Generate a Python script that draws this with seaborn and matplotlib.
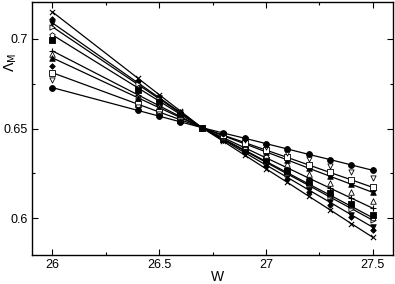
import matplotlib
matplotlib.use("Agg")
import matplotlib.pyplot as plt
import seaborn as sns
import pandas as pd

W = [26.0, 26.4, 26.5, 26.6, 26.7, 26.8, 26.9, 27.0, 27.1, 27.2, 27.3, 27.4, 27.5]

s_x     = [0.7150, 0.6781, 0.6689, 0.6597, 0.6505, 0.6429, 0.6352, 0.6276, 0.6200, 0.6123, 0.6047, 0.5970, 0.5894]
s_dia1  = [0.7111, 0.6765, 0.6678, 0.6592, 0.6505, 0.6434, 0.6362, 0.6291, 0.6219, 0.6148, 0.6076, 0.6005, 0.5933]
s_tdf   = [0.7089, 0.6755, 0.6672, 0.6589, 0.6505, 0.6436, 0.6366, 0.6297, 0.6228, 0.6158, 0.6089, 0.6019, 0.5950]
s_tro   = [0.7067, 0.6746, 0.6666, 0.6585, 0.6505, 0.6441, 0.6376, 0.6312, 0.6247, 0.6183, 0.6118, 0.6054, 0.5989]
s_pen   = [0.7022, 0.6727, 0.6653, 0.6579, 0.6505, 0.6442, 0.6380, 0.6317, 0.6254, 0.6191, 0.6129, 0.6066, 0.6003]
s_sqf   = [0.6994, 0.6715, 0.6645, 0.6575, 0.6505, 0.6444, 0.6383, 0.6322, 0.6261, 0.6200, 0.6139, 0.6078, 0.6017]
s_plus  = [0.6933, 0.6688, 0.6627, 0.6566, 0.6505, 0.6449, 0.6393, 0.6337, 0.6281, 0.6224, 0.6168, 0.6112, 0.6056]
s_tuo   = [0.6917, 0.6682, 0.6623, 0.6564, 0.6505, 0.6454, 0.6402, 0.6351, 0.6300, 0.6248, 0.6197, 0.6145, 0.6094]
s_tuf   = [0.6894, 0.6672, 0.6616, 0.6561, 0.6505, 0.6460, 0.6415, 0.6370, 0.6325, 0.6279, 0.6234, 0.6189, 0.6144]
s_dia2  = [0.6850, 0.6653, 0.6604, 0.6554, 0.6505, 0.6461, 0.6418, 0.6374, 0.6330, 0.6286, 0.6243, 0.6199, 0.6155]
s_sqo   = [0.6811, 0.6636, 0.6592, 0.6549, 0.6505, 0.6463, 0.6422, 0.6380, 0.6339, 0.6297, 0.6255, 0.6214, 0.6172]
s_tdo   = [0.6772, 0.6619, 0.6581, 0.6543, 0.6505, 0.6470, 0.6434, 0.6399, 0.6364, 0.6328, 0.6293, 0.6257, 0.6222]
s_circ  = [0.6728, 0.6601, 0.6569, 0.6537, 0.6505, 0.6475, 0.6446, 0.6416, 0.6386, 0.6356, 0.6327, 0.6297, 0.6267]

series = [s_x, s_dia1, s_tdf, s_tro, s_pen, s_sqf, s_plus, s_tuo, s_tuf, s_dia2, s_sqo, s_tdo, s_circ]
markers = ['x', 'D', 'v', '>', 'p', 's', '+', '^', '^', 'D', 's', 'v', 'o']
filled = [True, True, True, False, False, True, True, False, True, True, False, False, True]
sizes = [14, 8, 16, 14, 16, 14, 18, 16, 16, 8, 14, 14, 18]
with_line = [True, False, True, True, True, False, True, False, True, False, True, False, True]

x_ticks = [26, 26.5, 27, 27.5]
x_ticklabels = ["26", "26.5", "27", "27.5"]
y_ticks = [0.6, 0.65, 0.7]
y_ticklabels = ["0.6", "0.65", "0.7"]

sns.set_theme(style="ticks")
plt.rcParams['font.family'] = ['Liberation Sans', 'DejaVu Sans']

fig = plt.figure(figsize=(3.95, 2.84), dpi=100)
ax = fig.add_axes([0.081, 0.102, 0.914, 0.891])

for vals, m, f, s, ln in zip(series, markers, filled, sizes, with_line):
    df = pd.DataFrame({"W": W, "L": vals})
    if ln:
        sns.lineplot(data=df, x="W", y="L", ax=ax, color="black", linewidth=0.9, zorder=2)
    if m in ('x', '+'):
        sns.scatterplot(data=df, x="W", y="L", ax=ax, marker=m, color="black",
                        s=s, linewidth=0.8, zorder=3)
    elif f:
        sns.scatterplot(data=df, x="W", y="L", ax=ax, marker=m, color="black",
                        edgecolor="black", s=s, linewidth=0.6, zorder=3)
    else:
        sns.scatterplot(data=df, x="W", y="L", ax=ax, marker=m, facecolor="white",
                        edgecolor="black", s=s, linewidth=0.6, zorder=3)

ax.set_xlim(25.905, 27.595)
ax.set_ylim(0.5795, 0.7205)
ax.set_xticks(x_ticks)
ax.set_xticklabels(x_ticklabels)
ax.set_yticks(y_ticks)
ax.set_yticklabels(y_ticklabels)
ax.set_xticks([26.25, 26.75, 27.25], minor=True)
ax.set_yticks([0.625, 0.675], minor=True)
ax.tick_params(which='both', direction='in', top=True, right=True, labelsize=9,
               color='black', labelcolor='black', width=0.8)
ax.tick_params(which='major', length=4, pad=3)
ax.tick_params(which='minor', length=2.5)
for sp in ax.spines.values():
    sp.set_color('black')
    sp.set_linewidth(1.0)

ax.set_xlabel("W", fontsize=10, color='black')
ax.xaxis.set_label_coords(0.515, -0.085)
ax.xaxis.label.set_va('center')
ax.set_ylabel(r"$\Lambda_{\mathrm{M}}$", fontsize=10, color='black')
ax.yaxis.set_label_coords(-0.058, 0.76)
ax.yaxis.label.set_va('center')

fig.savefig("out.png", dpi=100)
